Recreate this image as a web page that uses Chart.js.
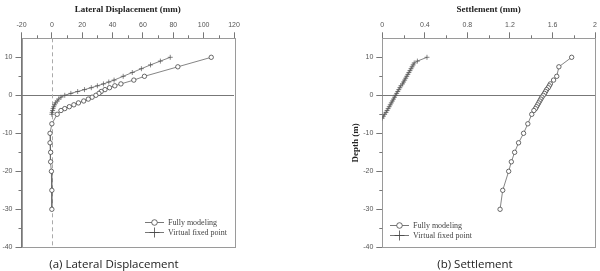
<!DOCTYPE html>
<html>
<head>
<meta charset="utf-8">
<script src="https://cdn.jsdelivr.net/npm/chart.js@4.4.0/dist/chart.umd.min.js"></script>
<style>
    body { margin: 0; background: #fff; }
    #wrap { position: relative; width: 600px; height: 271px; overflow: hidden; }
    canvas { position: absolute; top: 0; }
    .caption {
        position: absolute; top: 256px; width: 200px; text-align: center;
        font: 11.5px "Open Sans", sans-serif; color: #222; white-space: nowrap;
    }
</style>
</head>
<body>
<div id="wrap">
    <canvas id="lateralChart" width="300" height="271" style="left:0"></canvas>
    <canvas id="settlementChart" width="300" height="271" style="left:300px"></canvas>
    <div class="caption" style="left:14px">(a) Lateral Displacement</div>
    <div class="caption" style="left:375px">(b) Settlement</div>
</div>
<script>
// depth (m) of each point, shared by both panels for the full model
const modelDepth = [10, 7.5, 5, 4, 3, 2.5, 2, 1.5, 1, 0.5, 0, -0.5, -1, -1.5, -2, -2.5, -3, -3.5, -4, -5, -7.5, -10, -12.5, -15, -17.5, -20, -25, -30];
const modelLateral = [105, 83, 61, 54, 45.5, 41.5, 38, 35, 32.5, 31, 29, 26.5, 24, 21, 17.5, 14.5, 11.5, 8.5, 6, 3.5, 0, -1.2, -1.2, -0.8, -0.8, -0.3, 0, 0];
const modelSettlement = [1.78, 1.66, 1.64, 1.61, 1.58, 1.57, 1.56, 1.545, 1.535, 1.525, 1.513, 1.5, 1.49, 1.48, 1.47, 1.46, 1.45, 1.44, 1.425, 1.405, 1.368, 1.328, 1.281, 1.244, 1.213, 1.188, 1.132, 1.107];

// virtual fixed point model
const virtualLatDepth = [10, 9, 8, 7, 6, 5, 4, 3.5, 3, 2.5, 2, 1.5, 1, 0.5, 0, -0.5, -1, -1.5, -2, -2.5, -3, -3.5, -4, -4.5, -5];
const virtualLateral = [78, 71.5, 65, 59, 53, 47, 41, 37.5, 34, 30, 26, 21.5, 17, 12.5, 8.5, 6, 4.5, 3.5, 2.5, 1.8, 1.2, 0.8, 0.5, 0.2, 0];
const virtualSetDepth = [10, 9, 8.5, 8, 7.5, 7, 6.5, 6, 5.5, 5, 4.5, 4, 3.5, 3, 2.5, 2, 1.5, 1, 0.5, 0, -0.5, -1, -1.5, -2, -2.5, -3, -3.5, -4, -4.5, -5, -5.5, -6];
const virtualSettlement = [0.42, 0.33, 0.30, 0.29, 0.28, 0.27, 0.26, 0.25, 0.24, 0.23, 0.22, 0.21, 0.20, 0.19, 0.175, 0.165, 0.155, 0.145, 0.135, 0.125, 0.115, 0.105, 0.095, 0.085, 0.075, 0.065, 0.055, 0.045, 0.035, 0.022, 0.01, 0];

// tick labels
const depthTicks = [-40, -30, -20, -10, 0, 10];
const lateralTicks = [-20, 0, 20, 40, 60, 80, 100, 120];
const settlementTicks = [0, 0.4, 0.8, 1.2, 1.6, 2];

const seriesNames = ["Fully modeling", "Virtual fixed point"];

const toPoints = (xs, ys) => xs.map((v, i) => ({ x: v, y: ys[i] }));

const crisp = v => Math.round(v) + 0.5;

// plot frame, zero lines and minor ticks
const framePlugin = {
    id: "frame",
    beforeDatasetsDraw(chart, args, opts) {
        const { ctx, chartArea: a, scales: { x, y } } = chart;
        ctx.save();
        ctx.lineWidth = 1;
        ctx.strokeStyle = "#9a9a9a";
        ctx.strokeRect(crisp(a.left), crisp(a.top), Math.round(a.right - a.left), Math.round(a.bottom - a.top));

        const y0 = crisp(y.getPixelForValue(0));
        ctx.strokeStyle = "#777";
        ctx.beginPath(); ctx.moveTo(a.left, y0); ctx.lineTo(a.right, y0); ctx.stroke();

        if (opts.zeroDash) {
            const x0 = crisp(x.getPixelForValue(0));
            ctx.strokeStyle = "#aaa";
            ctx.setLineDash([4, 3]);
            ctx.beginPath(); ctx.moveTo(x0, a.top); ctx.lineTo(x0, a.bottom); ctx.stroke();
            ctx.setLineDash([]);
        }

        ctx.strokeStyle = "#777";
        ctx.beginPath();
        for (let v = x.min + opts.xStep / 2; v < x.max; v += opts.xStep) {
            const p = crisp(x.getPixelForValue(v));
            ctx.moveTo(p, a.top - 3); ctx.lineTo(p, a.top);
        }
        for (let v = y.min + 5; v < y.max; v += 10) {
            const p = crisp(y.getPixelForValue(v));
            ctx.moveTo(a.left - 3, p); ctx.lineTo(a.left, p);
        }
        ctx.stroke();
        ctx.restore();
    },
    afterDraw(chart, args, opts) {
        // legend: short line with the marker in the middle
        const { ctx, chartArea: a } = chart;
        const x0 = opts.legendRight ? a.right - opts.legendX : a.left + opts.legendX;
        ctx.save();
        ctx.font = "8px 'Liberation Serif'";
        ctx.textBaseline = "middle";
        chart.data.datasets.forEach((ds, i) => {
            const ly = Math.round(a.bottom - opts.legendY + i * 10.5) + 0.5;
            ctx.strokeStyle = "#555";
            ctx.lineWidth = 0.8;
            ctx.beginPath(); ctx.moveTo(x0, ly); ctx.lineTo(x0 + 19, ly); ctx.stroke();
            ctx.fillStyle = "#fff";
            ctx.strokeStyle = "#444";
            Chart.helpers.drawPoint(ctx, {
                pointStyle: ds.pointStyle, radius: ds.pointStyle === "circle" ? 2.8 : 5,
                borderWidth: 0.8, rotation: 0,
            }, x0 + 9.5, ly);
            ctx.fillStyle = "#444";
            ctx.fillText(ds.label, x0 + 23, ly);
        });
        ctx.restore();
    }
};

const tickFont = { family: "'Liberation Sans'", size: 7 };
const titleFont = { family: "'Liberation Serif'", size: 9, weight: "bold" };

const generateConfig = p => {
    return {
        type: "scatter",
        data: {
            datasets: [{
                label: seriesNames[0],
                data: toPoints(p.modelX, modelDepth),
                showLine: true,
                borderColor: "#666",
                borderWidth: 0.8,
                pointStyle: "circle",
                pointRadius: 2.2,
                pointBorderWidth: 0.8,
                pointBorderColor: "#444",
                pointBackgroundColor: "#fff",
            }, {
                label: seriesNames[1],
                data: toPoints(p.virtualX, p.virtualDepth),
                showLine: true,
                borderColor: "#666",
                borderWidth: 0.8,
                pointStyle: "cross",
                pointRadius: 2.5,
                pointBorderWidth: 0.7,
                pointBorderColor: "#555",
            }]
        },
        options: {
            responsive: false,
            animation: false,
            layout: { padding: p.padding },
            plugins: {
                legend: { display: false },
                tooltip: { enabled: false },
                frame: p.frame,
            },
            scales: {
                x: {
                    type: "linear",
                    position: "top",
                    min: p.xTicks[0],
                    max: p.xTicks[p.xTicks.length - 1],
                    afterBuildTicks: s => { s.ticks = p.xTicks.map(v => ({ value: v })); },
                    afterFit: s => { s.height = 38.3; },
                    grid: { drawOnChartArea: false, drawTicks: true, tickLength: 6, color: "#777" },
                    border: { display: true, color: "#777" },
                    ticks: { font: tickFont, color: "#555", padding: 3, maxRotation: 0, callback: v => String(v) },
                    title: { display: true, text: p.xTitle, font: titleFont, color: "#222", padding: { top: 4, bottom: 0 } },
                },
                y: {
                    type: "linear",
                    min: -40,
                    max: 15,
                    afterBuildTicks: s => { s.ticks = depthTicks.map(v => ({ value: v })); },
                    afterFit: s => { s.width = p.yWidth; },
                    grid: { drawOnChartArea: false, drawTicks: true, tickLength: 6, color: "#777" },
                    border: { display: true, color: "#777" },
                    ticks: { font: tickFont, color: "#555", padding: 3, callback: v => String(v) },
                    title: {
                        display: p.yTitle !== "", text: p.yTitle,
                        font: { family: "'Liberation Serif'", size: 9, weight: "bold" },
                        color: "#222", padding: 0,
                    },
                }
            }
        },
        plugins: [framePlugin],
    };
};

new Chart(document.getElementById("lateralChart"), generateConfig({
    modelX: modelLateral,
    virtualX: virtualLateral,
    virtualDepth: virtualLatDepth,
    xTicks: lateralTicks,
    xTitle: "Lateral Displacement (mm)",
    yTitle: "",
    yWidth: 21.5,
    padding: { left: 0, right: 66, top: 0, bottom: 23.7 },
    frame: { zeroDash: true, xStep: 20, legendRight: true, legendX: 89, legendY: 25.6 },
}));

new Chart(document.getElementById("settlementChart"), generateConfig({
    modelX: modelSettlement,
    virtualX: virtualSettlement,
    virtualDepth: virtualSetDepth,
    xTicks: settlementTicks,
    xTitle: "Settlement (mm)",
    yTitle: "Depth (m)",
    yWidth: 32.3,
    padding: { left: 50, right: 2.7, top: 0, bottom: 23.7 },
    frame: { zeroDash: false, xStep: 0.4, legendRight: false, legendX: 7.7, legendY: 22.6 },
}));
</script>
</body>
</html>
